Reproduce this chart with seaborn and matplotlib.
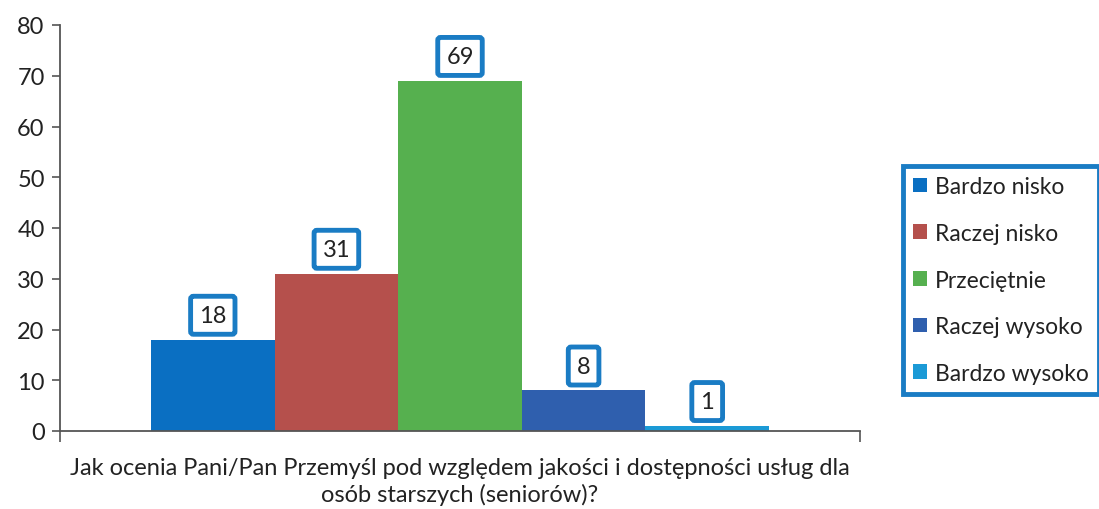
import numpy as np
import pandas as pd
import matplotlib
matplotlib.use("Agg")
import matplotlib.pyplot as plt
import seaborn as sns

# dane z wykresu
pytanie = "Jak ocenia Pani/Pan Przemyśl pod względem jakości i dostępności usług dla\nosób starszych (seniorów)?"
odpowiedzi = ["Bardzo nisko", "Raczej nisko", "Przeciętnie", "Raczej wysoko", "Bardzo wysoko"]
liczby = [18, 31, 69, 8, 1]
kolory = ["#0a6fc2", "#b5504c", "#56b04f", "#2f5fae", "#1b9ad6"]
yticks = [0, 10, 20, 30, 40, 50, 60, 70, 80]

sns.set_theme(style="white")
plt.rcParams["font.family"] = ["Lato", "DejaVu Sans"]

df = pd.DataFrame({"pytanie": [pytanie] * len(odpowiedzi),
                   "odpowiedz": odpowiedzi,
                   "liczba": liczby})

fig = plt.figure(figsize=(10.99, 5.10), dpi=100)
ax = fig.add_axes([60 / 1099, 78 / 510, 800 / 1099, 406 / 510])

sns.barplot(data=df, x="pytanie", y="liczba", hue="odpowiedz", hue_order=odpowiedzi,
            palette=kolory, width=0.7725, saturation=1, linewidth=0, ax=ax)

# etykiety danych w niebieskich ramkach
for cont in ax.containers:
    ax.bar_label(cont, fmt="%.0f", padding=10, fontsize=17, color="#222222",
                 bbox=dict(boxstyle="round,pad=0.36,rounding_size=0.12",
                           fc="white", ec="#1a7cc4", lw=3.5))

ax.set_ylim(0, 80)
ax.set_yticks(yticks)
ax.set_xlim(-0.5, 0.5)
ax.set_xticks([-0.5, 0.5])
ax.set_xticklabels(["", ""])
ax.set_ylabel("")
ax.set_xlabel(pytanie, fontsize=17, color="#222222", labelpad=7, linespacing=1.3)
ax.tick_params(axis="y", labelsize=17, labelcolor="#222222", direction="out",
               length=6, width=1.2, color="#555555", left=True, pad=5)
ax.tick_params(axis="x", direction="out", length=8, width=1.2, color="#555555", bottom=True)
sns.despine(ax=ax)
for s in ["left", "bottom"]:
    ax.spines[s].set_color("#555555")
    ax.spines[s].set_linewidth(1.3)

handles, labels = ax.get_legend_handles_labels()
ax.legend_.remove()
leg = fig.legend(handles, labels, loc="center left",
                 bbox_to_anchor=(903 / 1099, (510 - 281) / 510),
                 fontsize=16.5, frameon=True, fancybox=False, framealpha=1,
                 handlelength=0.6, handleheight=0.6, handletextpad=0.35,
                 labelspacing=1.12, borderpad=0.45, borderaxespad=0)
leg.get_frame().set_edgecolor("#1a7cc4")
leg.get_frame().set_linewidth(3.5)
for t in leg.get_texts():
    t.set_color("#222222")

fig.savefig("out.png", dpi=100)
